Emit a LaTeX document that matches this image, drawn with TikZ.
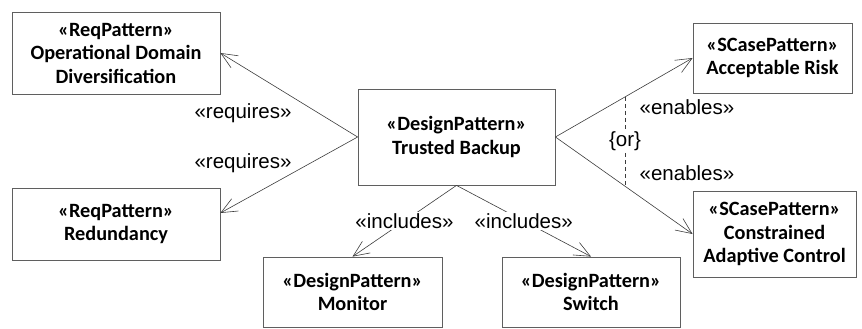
\documentclass[tikz,border=0pt]{standalone}
\usepackage{fontspec}
\setmainfont{Carlito}
\newfontfamily\labelfont{Liberation Sans}
\definecolor{boxgray}{RGB}{95, 95, 95}
\definecolor{linegray}{RGB}{60, 60, 60}
\usetikzlibrary{arrows.meta, positioning}

\begin{document}
\begin{tikzpicture}[x=1pt, y=-1pt,
    pattern/.style={draw=boxgray, line width=0.8pt, align=center, inner sep=0pt,
      font=\fontsize{20.3}{23.5}\selectfont\bfseries},
    dep/.style={draw=linegray, line width=0.6pt,
      -{Straight Barb[length=16pt, width=14pt, line width=0.6pt]}},
    stereo/.style={font=\labelfont\fontsize{20.5}{23}\selectfont, text=black, inner sep=1pt}]
  \useasboundingbox (0,0) rectangle (862,329);

  %% CENTRAL PATTERN
  \node[pattern, minimum width=197pt, minimum height=96pt] (tb) at (456.5,137)
    {«DesignPattern»\\Trusted Backup};

  %% REQUIREMENT PATTERNS (left)
  \node[pattern, minimum width=208pt, minimum height=82pt] (odd) at (116,53)
    {«ReqPattern»\\Operational Domain\\Diversification};
  \node[pattern, minimum width=208pt, minimum height=72pt] (red) at (116,224)
    {«ReqPattern»\\Redundancy};

  %% SAFETY CASE PATTERNS (right)
  \node[pattern, minimum width=159pt, minimum height=70pt] (ar) at (772.5,58)
    {«SCasePattern»\\Acceptable Risk};
  \node[pattern, minimum width=163pt, minimum height=86pt] (cac) at (774.5,234)
    {«SCasePattern»\\Constrained\\Adaptive Control};

  %% INCLUDED PATTERNS (bottom)
  \node[pattern, minimum width=179pt, minimum height=70pt] (mon) at (352.5,292)
    {«DesignPattern»\\Monitor};
  \node[pattern, minimum width=178pt, minimum height=70pt] (sw) at (591,292)
    {«DesignPattern»\\Switch};

  %% requires
  \draw[dep] (tb.west) -- (odd.east);
  \draw[dep] (tb.west) -- ([yshift=11pt]red.east);
  \node[stereo] (req1) at (243,113) {«requires»};
  \node[stereo] (req2) at (243,163) {«requires»};

  %% includes - labels sit on the lines
  \draw[dep] (tb.south) -- (mon.north)
    node[stereo, midway, fill=white] (inc1) {«includes»};
  \draw[dep] (tb.south) -- (sw.north)
    node[stereo, midway, fill=white] (inc2) {«includes»};

  %% enables, with the {or} constraint between both
  \draw[dep] (tb.east) -- coordinate[pos=0.507] (or1) (ar.west);
  \draw[dep] (tb.east) -- coordinate[pos=0.507] (or2) (cac.west);
  \draw[linegray, line width=0.6pt, dash pattern=on 4pt off 3pt] (or1) -- (or2)
    node[stereo, midway, fill=white] (orc) {\{or\}};
  \node[stereo] (en1) at (687,107) {«enables»};
  \node[stereo] (en2) at (687,173) {«enables»};
\end{tikzpicture}
\end{document}
